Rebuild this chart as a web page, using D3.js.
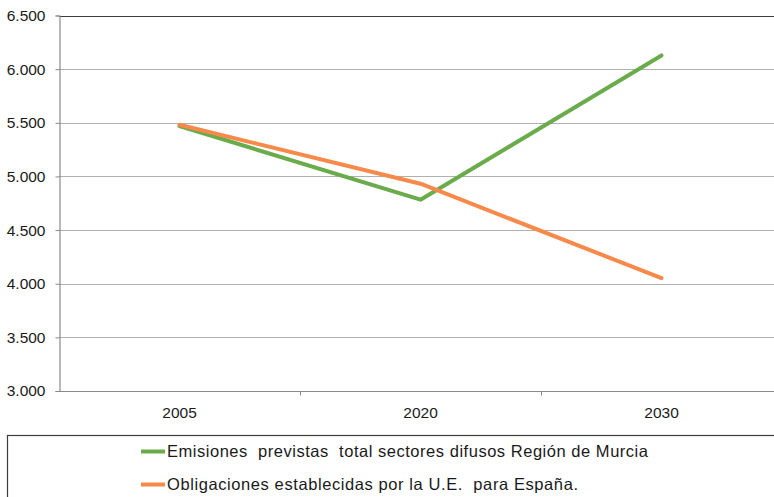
<!DOCTYPE html>
<html><head><meta charset="utf-8">
<script src="https://cdn.jsdelivr.net/npm/d3@7"></script>
<style>body{margin:0;background:#fff}svg{display:block}text{font-family:"Liberation Sans",Arial,sans-serif;fill:#1a1a1a}</style>
</head><body>
<svg id="c" width="774" height="497"></svg>
<script>
const categories = ["2005", "2020", "2030"];
const emisiones = [5470, 4783, 6128];
const obligaciones = [5482, 4932, 4052];
const seriesNames = [
  "Emisiones  previstas  total sectores difusos Región de Murcia",
  "Obligaciones establecidas por la U.E.  para España."
];
const seriesColors = ["#6aab4b", "#f7894a"];
const yTicks = [3000, 3500, 4000, 4500, 5000, 5500, 6000, 6500];

(function () {
const svg = d3.select("#c");
const pL = 59, pR = 782, pT = 15.5, pB = 391;
const x = d3.scaleBand().domain(categories).range([pL, pR]);
const y = d3.scaleLinear().domain([3000, 6500]).range([pB, pT]);
const fmt = v => d3.format(",.3f")(v / 1000).replace(",", "");

// gridlines
svg.append("g").selectAll("line").data(yTicks.filter(d => d > 3000)).join("line")
  .attr("x1", pL).attr("x2", 774)
  .attr("y1", d => Math.round(y(d)) + 0.5).attr("y2", d => Math.round(y(d)) + 0.5)
  .attr("stroke", d => d === 6500 ? "#3c3c3c" : "#b0b0b0").attr("stroke-width", 1.2);

// y axis
const ya = svg.append("g").attr("transform", `translate(${pL + 0.5},0)`)
  .call(d3.axisLeft(y).tickValues(yTicks).tickSize(4).tickPadding(10)
    .tickFormat(d => fmt(d)));
ya.select(".domain").attr("stroke", "#8a8a8a").attr("stroke-width", 1.2);
ya.selectAll(".tick line").attr("stroke", "#8a8a8a");
ya.selectAll(".tick text").style("font-size", "15.5px").attr("fill", "#1a1a1a")
  .style("font-family", '"Liberation Sans",Arial,sans-serif');

// x axis
const xa = svg.append("g").attr("transform", `translate(0,${Math.round(pB) + 0.5})`)
  .call(d3.axisBottom(x).tickSize(0).tickPadding(15));
xa.select(".domain").remove();
xa.append("line").attr("x1", pL).attr("x2", 774).attr("stroke", "#8a8a8a").attr("stroke-width", 1.2);
xa.selectAll(".tick text").style("font-size", "15.5px").attr("fill", "#1a1a1a")
  .style("font-family", '"Liberation Sans",Arial,sans-serif');
xa.append("g").selectAll("line").data(categories.slice(1)).join("line")
  .attr("x1", d => Math.round(x(d)) + 0.5).attr("x2", d => Math.round(x(d)) + 0.5)
  .attr("y1", 0).attr("y2", 4).attr("stroke", "#8a8a8a");

// lines
const line = d3.line().x((d, i) => x(categories[i]) + x.bandwidth() / 2).y(d => y(d));
[[emisiones, 0], [obligaciones, 1]].forEach(([s, idx]) => {
  svg.append("path").datum(s).attr("d", line).attr("fill", "none")
    .attr("stroke", seriesColors[idx]).attr("stroke-width", 4)
    .attr("stroke-linejoin", "round").attr("stroke-linecap", "round");
});

// legend
svg.append("rect").attr("x", 7.5).attr("y", 435.5).attr("width", 800).attr("height", 100)
  .attr("fill", "none").attr("stroke", "#3c3c3c").attr("stroke-width", 1.2);
const legendWidths = [481, 411];
const lg = svg.append("g").selectAll("g").data(seriesNames).join("g")
  .attr("transform", (d, i) => `translate(141,${451.5 + i * 33})`);
lg.append("line").attr("x1", 0).attr("x2", 24).attr("stroke", (d, i) => seriesColors[i]).attr("stroke-width", 4);
lg.append("text").attr("x", 26).attr("dy", "0.36em").style("font-size", "16.5px")
  .style("white-space", "pre")
  .attr("textLength", (d, i) => legendWidths[i]).attr("lengthAdjust", "spacing")
  .text(d => d);
})();
</script>
</body></html>
